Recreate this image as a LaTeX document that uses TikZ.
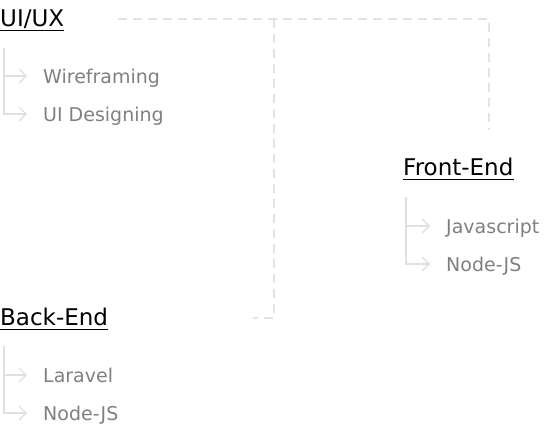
\documentclass[tikz,border=0pt]{standalone}
\usepackage{fontspec}
\setmainfont{DejaVu Sans}
\usepackage{xcolor}
\usepackage{tikz}
\usetikzlibrary{positioning, arrows.meta}

\definecolor{itemgray}{HTML}{7F7F7F}
\definecolor{treegray}{HTML}{E0E0E0}
\definecolor{dashgray}{HTML}{E2E2E2}

\begin{document}
\begin{tikzpicture}[x=1pt, y=-1pt,
  heading/.style={anchor=base west, inner sep=0pt, font=\fontsize{23}{26}\selectfont, text=black},
  item/.style={anchor=base west, inner sep=0pt, font=\fontsize{19}{22}\selectfont, text=itemgray},
  tree/.style={draw=treegray, line width=1.4pt},
  branch/.style={tree, -{Straight Barb[length=7pt, width=14pt, line width=1.4pt]}},
  link/.style={draw=dashgray, line width=2pt, dash pattern=on 9pt off 6pt},
  uline/.style={draw=black, line width=1.1pt}
]
\useasboundingbox (0,0) rectangle (549,431);

% UI/UX
\node[heading] (uiux) at (0,26) {UI/UX};
\draw[uline] ([yshift=-4.5pt]uiux.base west) -- ([yshift=-4.5pt]uiux.base east);
\node[item] (wire) at (43,83) {Wireframing};
\node[item] (uides) at (43,121) {UI Designing};
\coordinate (uiroot) at (4,48);

% Front-End
\node[heading] (front) at (403,175) {Front-End};
\draw[uline] ([yshift=-4.5pt]front.base west) -- ([yshift=-4.5pt]front.base east);
\node[item] (js) at (446,233) {Javascript};
\node[item] (nodefe) at (446,271) {Node-JS};
\coordinate (feroot) at (406,197);

% Back-End
\node[heading] (back) at (0,325) {Back-End};
\draw[uline] ([yshift=-4.5pt]back.base west) -- ([yshift=-4.5pt]back.base east);
\node[item] (laravel) at (43,382) {Laravel};
\node[item] (nodebe) at (43,420) {Node-JS};
\coordinate (beroot) at (4,346);

% Trees
\foreach \root/\a/\b in {uiroot/wire/uides, feroot/js/nodefe, beroot/laravel/nodebe}{
  \coordinate (\a tip) at ([xshift=-16pt, yshift=7pt]\a.base west);
  \coordinate (\b tip) at ([xshift=-16pt, yshift=7pt]\b.base west);
  \draw[tree] (\root) |- (\b tip);
  \draw[branch] (\root |- \a tip) -- (\a tip);
  \draw[branch] (\root |- \b tip) -- (\b tip);
}

% Dashed links
\coordinate (linkstart) at (118,19);
\coordinate (feend) at (489,130);
\coordinate (split) at (274,19);
\coordinate (beend) at (253,318);
\draw[link] (linkstart) -| (feend);
\draw[link] (split) |- (beend);
\end{tikzpicture}
\end{document}
